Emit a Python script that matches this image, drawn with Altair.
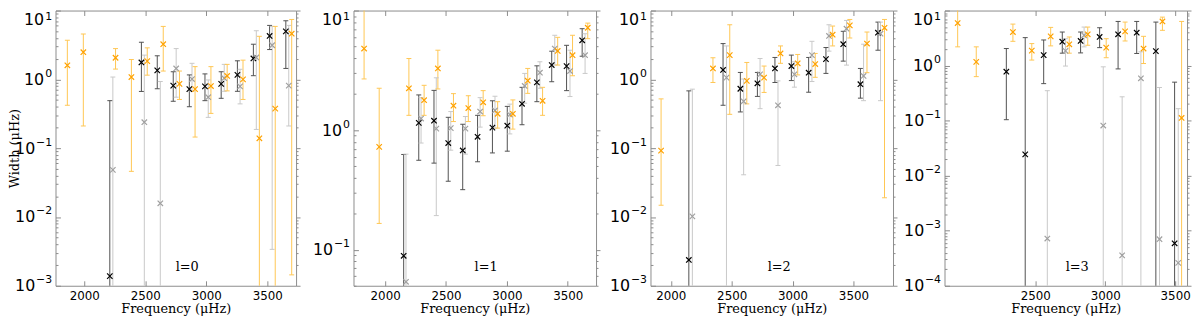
import altair as alt
import pandas as pd

SERIES = ["black", "grey", "orange"]
BAR_COLORS = ["#505050", "#c8c8c8", "#ffc653"]
MARK_COLORS = ["#000000", "#a0a0a0", "#ffa200"]
FRAME = "#8c8c8c"
BELOW = 1e-9  # lower end of an error bar that runs off the bottom of the panel

# ---------------- l = 0 ----------------
l0_black_freq = [2209, 2468, 2598, 2729, 2861, 2989, 3122, 3255, 3386, 3519, 3652]
l0_black_width = [0.00138, 1.76, 1.35, 0.81, 0.72, 0.79, 0.86, 1.16, 2.01, 4.27, 4.98]
l0_black_upper = [0.49, 3.46, 2.20, 1.29, 1.16, 1.20, 1.29, 1.86, 3.24, 6.08, 7.10]
l0_black_lower = [BELOW, 0.667, 0.73, 0.48, 0.40, 0.49, 0.53, 0.67, 1.13, 2.71, 1.44]

l0_grey_freq = [2234, 2492, 2623, 2753, 2883, 3016, 3147, 3277, 3410, 3540, 3676]
l0_grey_width = [0.0484, 0.238, 0.0158, 1.44, 1.01, 0.55, 1.04, 0.79, 2.08, 3.13, 0.81]
l0_grey_upper = [1.08, 2.25, 0.93, 2.80, 1.71, 0.98, 1.65, 1.40, 5.09, 5.88, 6.08]
l0_grey_lower = [BELOW, BELOW, BELOW, 0.55, 0.67, 0.28, 0.67, 0.44, 0.187, 0.00338, 0.21]

l0_orange_freq = [1861, 1992, 2256, 2386, 2516, 2647, 2780, 2908, 3038, 3171, 3301, 3435, 3565, 3700]
l0_orange_width = [1.60, 2.48, 2.06, 1.08, 1.84, 3.24, 0.86, 0.72, 0.80, 1.12, 1.00, 0.139, 0.375, 4.61]
l0_orange_upper = [3.70, 4.56, 2.80, 1.94, 2.87, 5.88, 1.32, 1.53, 1.53, 1.65, 1.90, 4.22, 5.88, 7.42]
l0_orange_lower = [0.42, 0.21, 1.41, 0.046, 1.15, 1.32, 0.51, 0.145, 0.32, 0.68, 0.51, BELOW, BELOW, 0.00144]

# ---------------- l = 1 ----------------
l1_black_freq = [2152, 2276, 2401, 2518, 2637, 2759, 2881, 3003, 3124, 3246, 3368, 3490, 3618]
l1_black_width = [0.089, 1.15, 1.20, 0.78, 0.676, 0.88, 1.05, 1.09, 1.66, 2.51, 3.50, 3.43, 5.64]
l1_black_upper = [0.626, 1.97, 2.15, 1.28, 1.12, 1.33, 1.76, 1.58, 2.28, 3.45, 4.57, 5.12, 7.05]
l1_black_lower = [BELOW, 0.56, 0.53, 0.374, 0.318, 0.544, 0.645, 0.667, 1.11, 1.73, 2.54, 2.14, 4.15]

l1_grey_freq = [2171, 2295, 2420, 2539, 2659, 2780, 2902, 3024, 3146, 3271, 3393, 3518, 3642]
l1_grey_width = [0.054, 1.25, 1.03, 1.04, 1.03, 1.43, 1.46, 1.35, 2.34, 3.02, 4.81, 3.12, 4.23]
l1_grey_upper = [0.63, 1.87, 2.74, 1.43, 1.30, 1.87, 1.92, 1.65, 2.98, 3.73, 6.21, 4.66, 6.40]
l1_grey_lower = [BELOW, 0.78, 0.193, 0.68, 0.63, 1.06, 1.04, 0.93, 1.68, 2.24, 3.5, 1.91, 2.98]

l1_orange_freq = [1827, 1951, 2195, 2320, 2433, 2561, 2683, 2805, 2924, 3049, 3171, 3293, 3417, 3539, 3664]
l1_orange_width = [4.81, 0.725, 2.24, 1.78, 3.28, 1.60, 1.53, 1.71, 1.37, 1.37, 2.59, 1.76, 4.59, 4.23, 7.18]
l1_orange_upper = [20.0, 2.24, 3.97, 2.37, 4.66, 2.02, 1.94, 2.14, 1.73, 1.79, 3.28, 2.28, 5.97, 6.21, 7.85]
l1_orange_lower = [2.68, 0.166, 1.33, 1.33, 2.21, 1.18, 1.18, 1.32, 1.04, 1.02, 2.03, 1.33, 3.50, 2.85, 5.82]

# ---------------- l = 2 ----------------
l2_black_freq = [2148, 2429, 2571, 2711, 2855, 2990, 3132, 3274, 3416, 3557, 3701]
l2_black_width = [0.00237, 1.37, 0.73, 0.877, 1.44, 1.56, 1.25, 1.97, 3.24, 0.85, 4.76]
l2_black_upper = [0.68, 3.31, 1.26, 1.26, 2.08, 2.25, 2.08, 2.90, 4.99, 1.44, 6.79]
l2_black_lower = [BELOW, 0.42, 0.336, 0.565, 0.90, 0.96, 0.65, 1.22, 1.84, 0.533, 2.65]

l2_grey_freq = [2177, 2457, 2598, 2733, 2880, 3015, 3159, 3299, 3443, 3583, 3722]
l2_grey_width = [0.0102, 1.06, 0.48, 1.18, 0.42, 1.18, 2.25, 4.27, 5.44, 1.12, 4.61]
l2_grey_upper = [0.72, 3.06, 1.01, 2.01, 0.95, 1.80, 3.57, 6.21, 7.18, 3.24, 6.79]
l2_grey_lower = [BELOW, BELOW, 0.041, 0.375, 0.056, 0.77, 0.93, 2.57, 1.61, 0.49, 0.49]

l2_orange_freq = [1920, 2346, 2484, 2624, 2766, 2901, 3042, 3186, 3329, 3470, 3611, 3755]
l2_orange_width = [0.092, 1.44, 2.25, 0.95, 1.06, 2.38, 1.71, 1.67, 4.46, 6.08, 3.31, 5.62]
l2_orange_upper = [0.52, 2.06, 6.21, 1.76, 1.56, 3.06, 2.30, 2.38, 5.95, 7.42, 4.87, 7.42]
l2_orange_lower = [0.0148, 0.90, 0.31, 0.44, 0.645, 1.71, 1.16, 1.07, 3.06, 3.99, 1.25, 0.019]

# ---------------- l = 3 ----------------
l3_black_freq = [2293, 2428, 2560, 2693, 2824, 2960, 3092, 3225, 3362, 3496]
l3_black_width = [0.775, 0.0244, 1.55, 2.72, 2.80, 3.31, 3.70, 3.96, 1.83, 0.00059]
l3_black_upper = [2.04, 3.22, 2.92, 4.07, 4.07, 4.87, 6.34, 6.34, 6.17, 0.50]
l3_black_lower = [0.104, BELOW, 0.47, 1.68, 1.70, 2.12, 0.87, 1.66, BELOW, BELOW]

l3_grey_freq = [2586, 2716, 2849, 2986, 3121, 3255, 3388, 3522]
l3_grey_width = [0.00072, 1.85, 3.55, 0.0815, 0.000357, 0.587, 0.0007, 0.00026]
l3_grey_upper = [0.35, 3.08, 5.01, 0.95, 0.271, 1.78, 0.40, 0.165]
l3_grey_lower = [BELOW, 0.98, 2.19, BELOW, BELOW, BELOW, BELOW, BELOW]

l3_orange_freq = [1945, 2078, 2340, 2475, 2610, 2743, 2875, 3007, 3142, 3274, 3409, 3546]
l3_orange_width = [5.92, 1.17, 4.07, 1.87, 3.40, 2.44, 3.70, 2.12, 4.19, 2.04, 6.34, 0.112]
l3_orange_upper = [20.0, 2.19, 5.67, 2.51, 4.94, 3.31, 5.01, 3.08, 6.17, 3.40, 7.59, 6.34]
l3_orange_lower = [2.19, 0.63, 2.76, 1.26, 2.28, 1.68, 2.34, 1.39, 2.80, 1.09, 4.37, BELOW]

# ---------------- axes ----------------
x_ticks_full = [2000, 2500, 3000, 3500]
x_ticks_l3 = [2500, 3000, 3500]

y_major_3 = [0.001, 0.01, 0.1, 1, 10]
y_exp_3 = ["−3", "−2", "−1", "0", "1"]
y_major_1 = [0.1, 1, 10]
y_exp_1 = ["−1", "0", "1"]
y_major_4 = [0.0001, 0.001, 0.01, 0.1, 1, 10]
y_exp_4 = ["−4", "−3", "−2", "−1", "0", "1"]


def minor_ticks(lo, hi):
    out = []
    for d in y_major_4 + [100]:
        for m in range(2, 10):
            v = round(m * d / 10, 8)
            if lo <= v < hi:
                out.append(v)
    return out


def table(groups):
    rows = []
    for name, (f, w, up, low) in zip(SERIES, groups):
        for a, b, c, d in zip(f, w, up, low):
            rows.append({"series": name, "freq": a, "width": b, "upper": c, "lower": d})
    return pd.DataFrame(rows)


PANELS = [
    dict(label="l=0", df=table([
        (l0_black_freq, l0_black_width, l0_black_upper, l0_black_lower),
        (l0_grey_freq, l0_grey_width, l0_grey_upper, l0_grey_lower),
        (l0_orange_freq, l0_orange_width, l0_orange_upper, l0_orange_lower)]),
        xdom=[1764, 3736], xt=x_ticks_full, ydom=[0.001, 10], ymaj=y_major_3, yexp=y_exp_3,
        width=243, extent=32, title="Width (μHz)", tx=133),
    dict(label="l=1", df=table([
        (l1_black_freq, l1_black_width, l1_black_upper, l1_black_lower),
        (l1_grey_freq, l1_grey_width, l1_grey_upper, l1_grey_lower),
        (l1_orange_freq, l1_orange_width, l1_orange_upper, l1_orange_lower)]),
        xdom=[1740, 3732], xt=x_ticks_full, ydom=[0.05, 10], ymaj=y_major_1, yexp=y_exp_1,
        width=245, extent=52, title=None, tx=134),
    dict(label="l=2", df=table([
        (l2_black_freq, l2_black_width, l2_black_upper, l2_black_lower),
        (l2_grey_freq, l2_grey_width, l2_grey_upper, l2_grey_lower),
        (l2_orange_freq, l2_orange_width, l2_orange_upper, l2_orange_lower)]),
        xdom=[1833, 3825], xt=x_ticks_full, ydom=[0.001, 10], ymaj=y_major_3, yexp=y_exp_3,
        width=245, extent=49, title=None, tx=130),
    dict(label="l=3", df=table([
        (l3_black_freq, l3_black_width, l3_black_upper, l3_black_lower),
        (l3_grey_freq, l3_grey_width, l3_grey_upper, l3_grey_lower),
        (l3_orange_freq, l3_orange_width, l3_orange_upper, l3_orange_lower)]),
        xdom=[1851, 3585], xt=x_ticks_l3, ydom=[0.0001, 10], ymaj=y_major_4, yexp=y_exp_4,
        width=245, extent=46, title=None, tx=134),
]

X_MARK = "M-1,-1L1,1M-1,1L1,-1"
PLOT_H = 278
TOP_TEST = "datum.value >= 9"


def tick_axis(orient, values, size, offset):
    return alt.Axis(orient=orient, values=values, tickCount=200, labels=False, domain=False,
                    grid=False, ticks=True, tickSize=size, tickColor=FRAME, tickWidth=1,
                    offset=offset, minExtent=0, maxExtent=10, title=None)


def panel(p):
    df = p["df"]
    xs = alt.Scale(domain=p["xdom"], nice=False, zero=False)
    ys = alt.Scale(type="log", domain=p["ydom"], nice=False)
    ymin = minor_ticks(p["ydom"][0], p["ydom"][1])
    bar_color = alt.Color("series:N", scale=alt.Scale(domain=SERIES, range=BAR_COLORS), legend=None)
    pt_color = alt.Color("series:N", scale=alt.Scale(domain=SERIES, range=MARK_COLORS), legend=None)

    pairs = sorted(zip(p["ymaj"], p["yexp"]), reverse=True)
    exp_expr = " : ".join(f"datum.value > {v * 0.5} ? '{s}'" for v, s in pairs) + " : ''"

    # base "10" of each decade label
    base_kw = dict(
        orient="left", values=p["ymaj"], tickCount=50, labelExpr="'10'", ticks=False,
        tickSize=0, domain=False, grid=False, labelFont="DejaVu Sans", labelFontSize=16,
        labelColor="black", labelFlush=False, labelOverlap=False,
        labelPadding={"condition": {"test": "datum.value < 0.5", "value": 21}, "value": 12},
        labelBaseline={"condition": {"test": TOP_TEST, "value": "top"}, "value": "middle"},
        labelOffset={"condition": {"test": TOP_TEST, "value": 1}, "value": 0},
        minExtent=p["extent"], maxExtent=p["extent"], title=p["title"],
    )
    if p["title"]:
        base_kw.update(titleFont="DejaVu Serif", titleFontSize=13, titleFontWeight="normal",
                       titleColor="black", titlePadding=2)
    base_axis = alt.Axis(**base_kw)

    # superscript exponent of each decade label
    exp_axis = alt.Axis(
        orient="left", values=p["ymaj"], tickCount=50, labelExpr=exp_expr, ticks=False,
        tickSize=0, domain=False, grid=False, labelFont="DejaVu Sans", labelFontSize=11,
        labelColor="black", labelFlush=False, labelOverlap=False, labelPadding=4,
        labelAlign="right",
        labelBaseline={"condition": {"test": TOP_TEST, "value": "top"}, "value": "middle"},
        labelOffset={"condition": {"test": TOP_TEST, "value": 0}, "value": -6},
        minExtent=0, maxExtent=10, title=None,
    )

    x_label_axis = alt.Axis(
        orient="bottom", values=p["xt"], tickCount=50, format="d", ticks=False, tickSize=0,
        domain=False, grid=False, labelFont="DejaVu Sans", labelFontSize=12,
        labelColor="black", labelPadding=5, labelFlush=False, labelOverlap=False,
        minExtent=0, title="Frequency (μHz)", titleFont="DejaVu Serif", titleFontSize=13,
        titleFontWeight="normal", titleColor="black", titlePadding=1,
    )

    bars = alt.Chart(df).mark_rule(clip=True, strokeWidth=1).encode(
        x=alt.X("freq:Q", scale=xs, axis=x_label_axis),
        y=alt.Y("lower:Q", scale=ys, axis=base_axis),
        y2="upper:Q",
        color=bar_color,
    )
    caps_hi = alt.Chart(df).mark_rule(clip=True, strokeWidth=1, xOffset=-2.5, x2Offset=2.5).encode(
        x=alt.X("freq:Q", scale=xs, axis=tick_axis("bottom", p["xt"], 5, -5)),
        x2="freq:Q",
        y=alt.Y("upper:Q", scale=ys, axis=tick_axis("left", p["ymaj"], 5, -5)),
        color=bar_color,
    )
    caps_lo = alt.Chart(df).mark_rule(clip=True, strokeWidth=1, xOffset=-2.5, x2Offset=2.5).encode(
        x=alt.X("freq:Q", scale=xs, axis=tick_axis("top", p["xt"], 5, -5)),
        x2="freq:Q",
        y=alt.Y("lower:Q", scale=ys, axis=tick_axis("left", ymin, 2.5, -2.5)),
        color=bar_color,
    )
    pts = alt.Chart(df).mark_point(clip=True, shape=X_MARK, size=30, filled=False,
                                   strokeWidth=1.2, opacity=1).encode(
        x=alt.X("freq:Q", scale=xs, axis=None),
        y=alt.Y("width:Q", scale=ys, axis=tick_axis("right", p["ymaj"], 4, 0)),
        color=pt_color,
    )
    ghost_minor = alt.Chart(df).mark_point(opacity=0, size=1).encode(
        x=alt.X("freq:Q", scale=xs, axis=None),
        y=alt.Y("width:Q", scale=ys, axis=tick_axis("right", ymin, 2, 0)),
    )
    ghost_exp = alt.Chart(df).mark_point(opacity=0, size=1).encode(
        x=alt.X("freq:Q", scale=xs, axis=None),
        y=alt.Y("width:Q", scale=ys, axis=exp_axis),
    )
    txt = alt.Chart(pd.DataFrame({"t": [p["label"]]})).mark_text(
        font="DejaVu Serif", fontSize=13, color="black", align="center", baseline="middle"
    ).encode(x=alt.value(p["tx"]), y=alt.value(259), text="t:N")

    return (
        alt.layer(bars, caps_hi, caps_lo, pts, ghost_minor, ghost_exp, txt)
        .resolve_scale(color="independent")
        .resolve_axis(x="independent", y="independent")
        .properties(width=p["width"], height=PLOT_H)
    )


chart = (
    alt.hconcat(*[panel(p) for p in PANELS], spacing=0)
    .resolve_scale(x="independent", y="independent", color="independent")
    .properties(padding=0, background="white")
    .configure_view(stroke=FRAME, strokeWidth=1)
)

chart.save("out.html", embed_options={"renderer": "svg", "actions": False})
